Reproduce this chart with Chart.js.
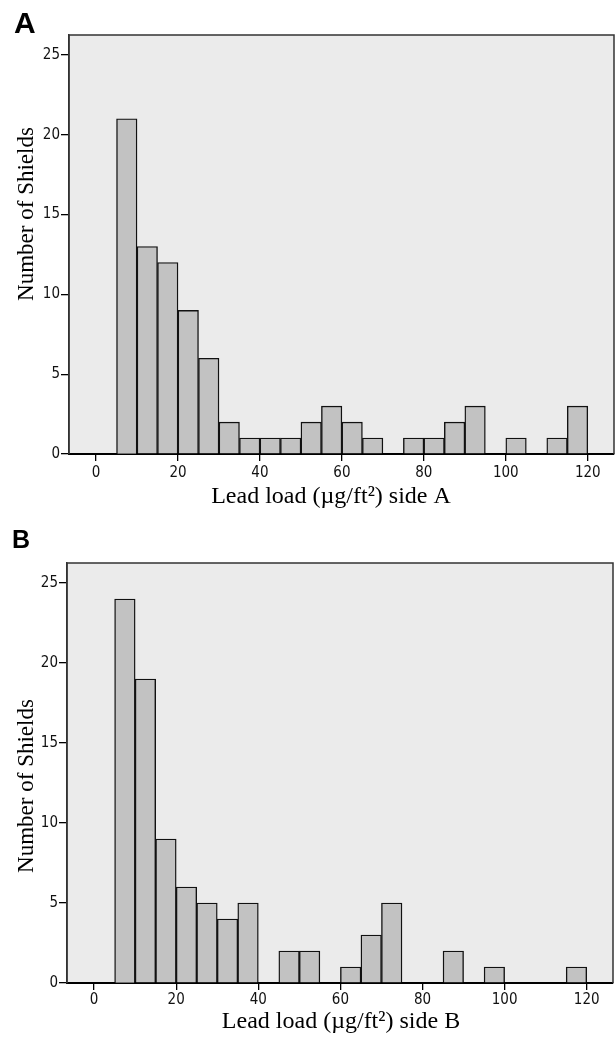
<!DOCTYPE html>
<html>
<head>
<meta charset="utf-8">
<title>Lead load histograms</title>
<script src="https://cdn.jsdelivr.net/npm/chart.js@4.4.1/dist/chart.umd.min.js"></script>
<style>
  body { margin: 0; background: #fff; width: 616px; height: 1037px; position: relative; overflow: hidden; }
  canvas { position: absolute; left: 0; }
  #chartA { top: 0; }
  #chartB { top: 518px; }
  .panel-label {
    position: absolute;
    font-family: "Liberation Sans", Arial, sans-serif;
    font-weight: bold;
    line-height: 1;
    color: #000;
  }
</style>
</head>
<body>
<canvas id="chartA" width="616" height="518"></canvas>
<canvas id="chartB" width="616" height="519"></canvas>
<div class="panel-label" style="left:14px; top:8px; font-size:30px;">A</div>
<div class="panel-label" style="left:12px; top:527px; font-size:25px;">B</div>
<script>
// ============================
// Data
// ============================
const BIN_WIDTH = 5;
const binStarts = [5, 10, 15, 20, 25, 30, 35, 40, 45, 50, 55, 60, 65, 70, 75, 80, 85, 90, 95, 100, 105, 110, 115];
const countsSideA = [21, 13, 12, 9, 6, 2, 1, 1, 1, 2, 3, 2, 1, 0, 1, 1, 2, 3, 0, 1, 0, 1, 3];
const countsSideB = [24, 19, 9, 6, 5, 4, 5, 0, 2, 2, 0, 1, 3, 5, 0, 0, 2, 0, 1, 0, 0, 0, 1];
const xTicks = [0, 20, 40, 60, 80, 100, 120];
const yTicks = [0, 5, 10, 15, 20, 25];

const Y_TITLE = "Number of Shields";
const X_TITLE_A = "Lead load (\u00b5g/ft\u00b2) side A";
const X_TITLE_B = "Lead load (\u00b5g/ft\u00b2) side B";

const TICK_FONT = '"Liberation Sans Narrow", "DejaVu Sans Condensed", "Liberation Sans", Arial, sans-serif';
const TITLE_FONT = '"Liberation Serif", "Times New Roman", serif';

// ============================
// Plugins: plot background, frame, axis titles
// ============================
const plotFrame = {
  id: "plotFrame",
  beforeDraw(chart) {
    const { ctx, chartArea: a } = chart;
    ctx.save();
    ctx.fillStyle = "#ebebeb";
    ctx.fillRect(a.left, a.top, a.right - a.left, a.bottom - a.top);
    ctx.restore();
  },
  afterDraw(chart) {
    const { ctx, chartArea: a } = chart;
    ctx.save();
    ctx.strokeStyle = "#333";
    ctx.lineWidth = 1.5;
    ctx.beginPath();
    ctx.moveTo(a.left, a.bottom);
    ctx.lineTo(a.left, a.top);
    ctx.lineTo(a.right, a.top);
    ctx.lineTo(a.right, a.bottom);
    ctx.stroke();
    ctx.restore();
  },
};

const axisTitles = {
  id: "axisTitles",
  afterDraw(chart, args, opts) {
    const { ctx } = chart;
    ctx.save();
    ctx.fillStyle = "#000";
    ctx.textBaseline = "alphabetic";
    ctx.textAlign = "center";

    ctx.font = `${opts.xSize}px ${TITLE_FONT}`;
    ctx.fillText(opts.xText, opts.xPos[0], opts.xPos[1]);

    ctx.font = `${opts.ySize}px ${TITLE_FONT}`;
    ctx.translate(opts.yPos[0], opts.yPos[1]);
    ctx.rotate(-Math.PI / 2);
    ctx.fillText(opts.yText, 0, 0);
    ctx.restore();
  },
};

// ============================
// Histogram builder
// ============================
function createHistogram(canvasId, counts, box, titles) {
  const ctx = document.getElementById(canvasId).getContext("2d");
  const points = binStarts.map((start, i) => ({ x: start + BIN_WIDTH / 2, y: counts[i] }));

  return new Chart(ctx, {
    type: "bar",
    data: {
      datasets: [
        {
          data: points,
          backgroundColor: "#c2c2c2",
          borderColor: "#111",
          borderWidth: 1.4,
          borderSkipped: "start",
          barPercentage: 1,
          categoryPercentage: 1,
        },
      ],
    },
    options: {
      responsive: false,
      animation: false,
      devicePixelRatio: 1,
      events: [],
      layout: { padding: { top: box.top, right: box.right, left: 0, bottom: 0 } },
      plugins: {
        legend: { display: false },
        tooltip: { enabled: false },
        axisTitles: titles,
      },
      scales: {
        x: {
          type: "linear",
          min: -6.6,
          max: 126.4,
          bounds: "data",
          offset: false,
          afterFit: (scale) => { scale.height = box.xAxisHeight; },
          afterBuildTicks: (scale) => { scale.ticks = xTicks.map((v) => ({ value: v })); },
          grid: { offset: false, drawOnChartArea: false, drawTicks: true, tickLength: 7, color: "#000", lineWidth: 1.3 },
          border: { display: true, color: "#000", width: 2 },
          ticks: {
            padding: box.xTickPadding,
            color: "#111",
            font: { family: TICK_FONT, size: 15 },
            maxRotation: 0,
          },
        },
        y: {
          type: "linear",
          min: 0,
          max: 26.25,
          bounds: "data",
          afterFit: (scale) => { scale.width = box.left; },
          afterBuildTicks: (scale) => { scale.ticks = yTicks.map((v) => ({ value: v })); },
          grid: { drawOnChartArea: false, drawTicks: true, tickLength: 8, color: "#000", lineWidth: 1.3 },
          border: { display: true, color: "#333", width: 1.5 },
          ticks: {
            padding: 1,
            color: "#111",
            font: { family: TICK_FONT, size: 15 },
          },
        },
      },
    },
    plugins: [plotFrame, axisTitles],
  });
}

// ============================
// Main Entry
// ============================
createHistogram(
  "chartA",
  countsSideA,
  { top: 35, right: 2, left: 69, xAxisHeight: 64, xTickPadding: 3 },
  { xText: X_TITLE_A, xSize: 24, xPos: [331, 503], yText: Y_TITLE, ySize: 23, yPos: [33, 214] }
);

createHistogram(
  "chartB",
  countsSideB,
  { top: 45, right: 3, left: 67, xAxisHeight: 54, xTickPadding: 1 },
  { xText: X_TITLE_B, xSize: 24, xPos: [341, 510], yText: Y_TITLE, ySize: 23, yPos: [33, 268] }
);
</script>
</body>
</html>
